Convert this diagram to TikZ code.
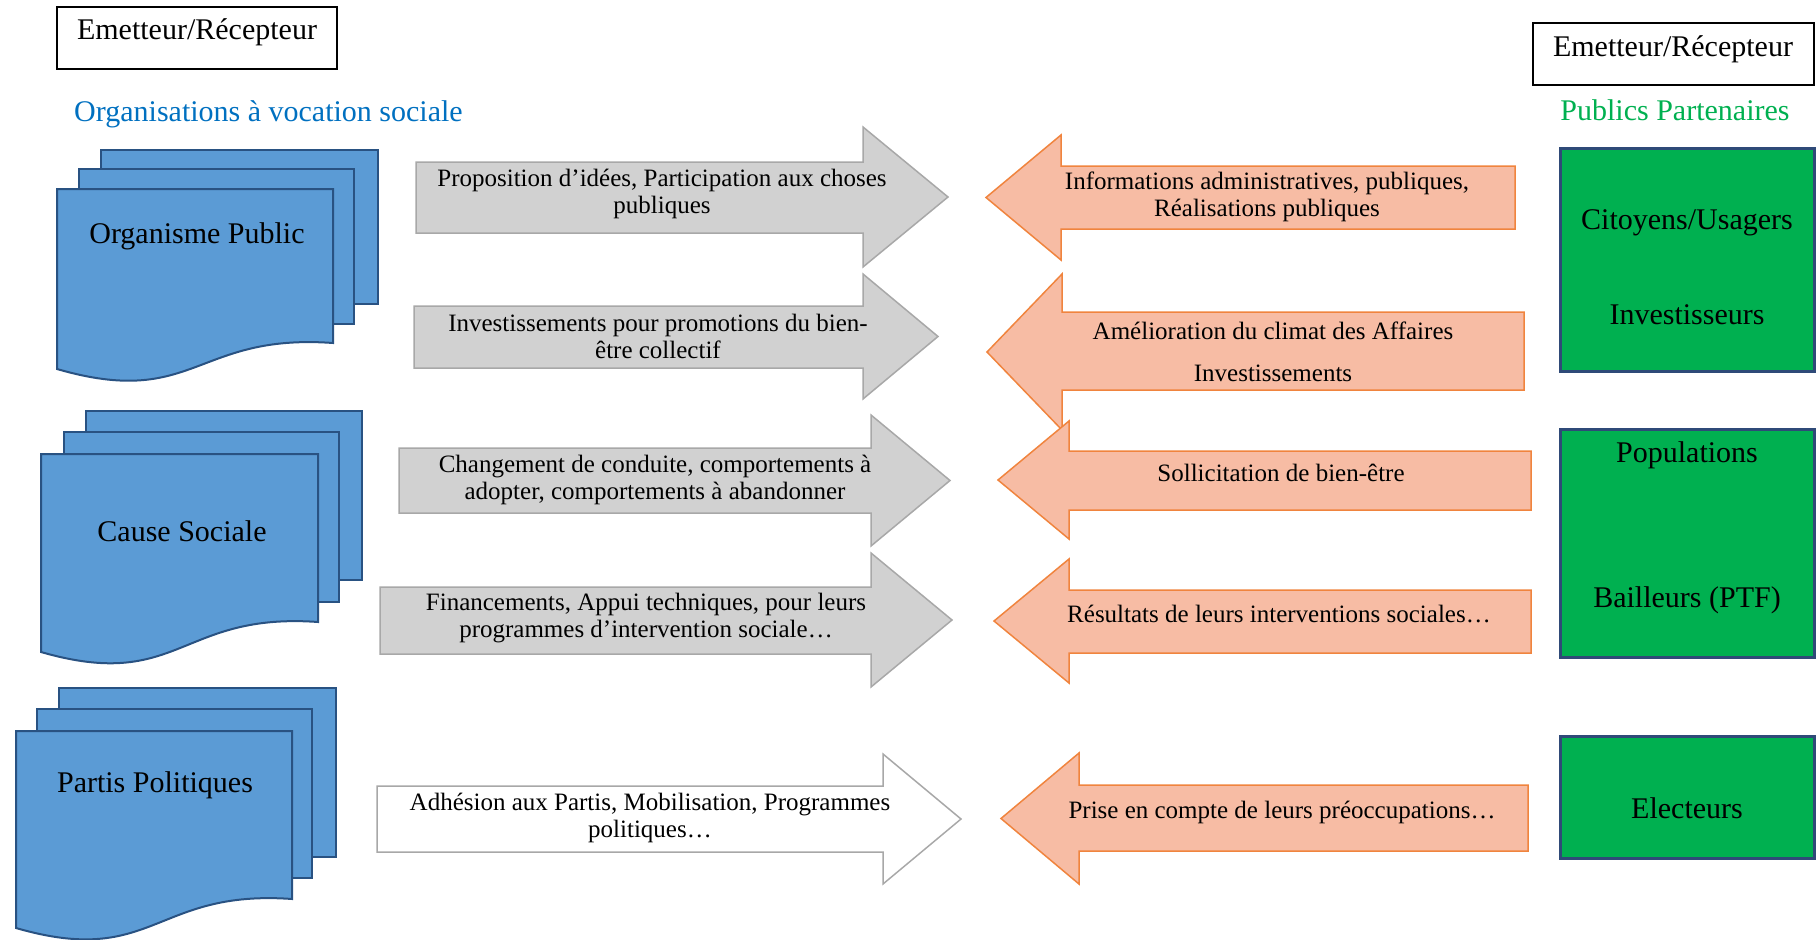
\documentclass[tikz,border=0pt]{standalone}
\usepackage{fontspec}
\setmainfont{Liberation Serif}
\definecolor{sheetfill}{RGB}{91,155,213}
\definecolor{sheetdraw}{RGB}{41,82,130}
\definecolor{grayfill}{RGB}{209,209,209}
\definecolor{graydraw}{RGB}{168,168,168}
\definecolor{salmonfill}{RGB}{247,188,164}
\definecolor{salmondraw}{RGB}{240,132,62}
\definecolor{partnerfill}{RGB}{0,176,80}
\definecolor{partnerdraw}{RGB}{47,74,120}
\definecolor{orgblue}{RGB}{0,112,192}
\definecolor{pubgreen}{RGB}{0,176,80}
\begin{document}
\begin{tikzpicture}[x=1pt,y=-1pt,
  every node/.style={inner sep=0pt, align=center, font=\fontsize{25}{27}\selectfont},
  big/.style={font=\fontsize{30}{34}\selectfont},
  sheet/.style={fill=sheetfill, draw=sheetdraw, line width=2pt, line join=miter},
  grayarrow/.style={fill=grayfill, draw=graydraw, line width=1.5pt},
  whitearrow/.style={fill=white, draw=graydraw, line width=1.5pt},
  salmonarrow/.style={fill=salmonfill, draw=salmondraw, line width=1.5pt},
  partner/.style={fill=partnerfill, draw=partnerdraw, line width=3pt},
  labelbox/.style={draw=black, line width=1.5pt, fill=white}]
\useasboundingbox (0,0) rectangle (1816,940);

% header labels
\draw[labelbox] (57,7) rectangle (337,69);
\node[big] (emleft) at (197,32) {Emetteur/Récepteur};
\draw[labelbox] (1533,23) rectangle (1814,85);
\node[big] (emright) at (1673,49) {Emetteur/Récepteur};
\node[big, text=orgblue] (orgtitle) at (268.5,114) {Organisations à vocation sociale};
\node[big, text=pubgreen] (pubtitle) at (1675,110) {Publics Partenaires};

% stacked documents
\draw[sheet] (101,150) rectangle (378,304);
\draw[sheet] (79,169) rectangle (354,324);
\draw[sheet] (57,189) -- (333,189) -- (333,343) .. controls (195,333) and (195,409) .. (57,369) -- cycle;
\node[big] (org) at (197,236) {Organisme Public};

\draw[sheet] (86,411) rectangle (362,580);
\draw[sheet] (64,432) rectangle (339,602);
\draw[sheet] (41,454) -- (318,454) -- (318,622) .. controls (179.5,612) and (179.5,692) .. (41,652) -- cycle;
\node[big] (cause) at (182,531) {Cause Sociale};

\draw[sheet] (59,688) rectangle (336,857);
\draw[sheet] (37,709) rectangle (312,878);
\draw[sheet] (16,731) -- (292,731) -- (292,899) .. controls (154,889) and (154,968) .. (16,928) -- cycle;
\node[big] (partis) at (155,785) {Partis Politiques};

% arrows towards the partners
\draw[grayarrow] (416,162) -- (863,162) -- (863,127) -- (948,197) -- (863,267) -- (863,233) -- (416,233) -- cycle;
\node (g1) at (662,194) {Proposition d’idées, Participation aux choses\\publiques};
\draw[grayarrow] (414,306) -- (863,306) -- (863,274) -- (938,336.5) -- (863,399) -- (863,368) -- (414,368) -- cycle;
\node (g2) at (658,336.5) {Investissements pour promotions du bien-\\être collectif};
\draw[grayarrow] (399,448) -- (871,448) -- (871,415) -- (950,480.5) -- (871,546) -- (871,513) -- (399,513) -- cycle;
\node (g3) at (655,479.5) {Changement de conduite, comportements à\\adopter, comportements à abandonner};
\draw[grayarrow] (380,587) -- (871,587) -- (871,553) -- (952,620) -- (871,687) -- (871,654) -- (380,654) -- cycle;
\node (g4) at (646,618) {Financements, Appui techniques, pour leurs\\programmes d’intervention sociale…};
\draw[whitearrow] (377,786) -- (883,786) -- (883,754) -- (961,819) -- (883,884) -- (883,852) -- (377,852) -- cycle;
\node (g5) at (650,818) {Adhésion aux Partis, Mobilisation, Programmes\\politiques…};

% arrows back from the partners
\draw[salmonarrow] (1515,166) -- (1061,166) -- (1061,135) -- (986,197.5) -- (1061,260) -- (1061,229) -- (1515,229) -- cycle;
\node (s1) at (1267,196.5) {Informations administratives, publiques,\\Réalisations publiques};
\draw[salmonarrow] (1524,312) -- (1062,312) -- (1062,274) -- (987,352) -- (1062,430) -- (1062,390) -- (1524,390) -- cycle;
\node (s2) at (1273,352) {Amélioration du climat des Affaires\\[15pt]Investissements};
\draw[salmonarrow] (1531,451) -- (1069,451) -- (1069,421) -- (998,480) -- (1069,539) -- (1069,510) -- (1531,510) -- cycle;
\node (s3) at (1281,472.5) {Sollicitation de bien-être};
\draw[salmonarrow] (1531,590) -- (1069,590) -- (1069,559) -- (994,621) -- (1069,683) -- (1069,653) -- (1531,653) -- cycle;
\node (s4) at (1279,614) {Résultats de leurs interventions sociales…};
\draw[salmonarrow] (1528,785) -- (1079,785) -- (1079,753) -- (1001,818.5) -- (1079,884) -- (1079,851) -- (1528,851) -- cycle;
\node (s5) at (1282,812.5) {Prise en compte de leurs préoccupations…};

% partner groups
\draw[partner] (1560,148) rectangle (1814,371);
\node[big] (cit) at (1687,223) {Citoyens/Usagers};
\node[big] (inv) at (1687,315) {Investisseurs};
\draw[partner] (1560,429) rectangle (1814,657);
\node[big] (pop) at (1687,455.5) {Populations};
\node[big] (bail) at (1687,600) {Bailleurs (PTF)};
\draw[partner] (1560,736) rectangle (1814,858);
\node[big] (elec) at (1687,808) {Electeurs};
\end{tikzpicture}
\end{document}
